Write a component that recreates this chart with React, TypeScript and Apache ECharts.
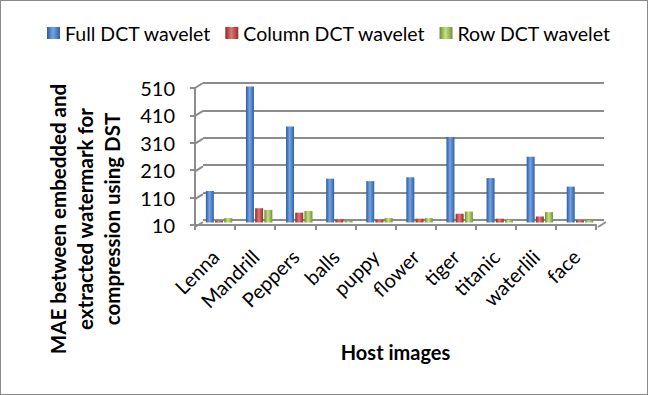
import React, { useEffect, useRef } from "react";
import * as echarts from "echarts";

const categories = ["Lenna", "Mandrill", "Peppers", "balls", "puppy", "flower", "tiger", "titanic", "waterlili", "face"];
const fullDct = [125, 506, 360, 170, 161, 175, 322, 172, 250, 141];
const columnDct = [16, 62, 46, 22, 20, 24, 42, 24, 32, 18];
const rowDct = [26, 56, 52, 16, 26, 26, 50, 20, 48, 18];
const seriesNames = ["Full DCT wavelet", "Column DCT wavelet", "Row DCT wavelet"];
const yTickLabels = ["10", "110", "210", "310", "410", "510"];
const axisBase = 10;
const axisSpan = 500;
const axisStep = 100;

const FONT = "Lato";

const grad = (a: string, b: string, c: string) =>
  new echarts.graphic.LinearGradient(0, 0, 1, 0, [
    { offset: 0, color: a },
    { offset: 0.45, color: b },
    { offset: 1, color: c },
  ]);

export default function App() {
  const ref = useRef<HTMLDivElement>(null);
  useEffect(() => {
    document.body.style.margin = "0";
    if (!ref.current) return;
    const chart = echarts.init(ref.current, null, { renderer: "svg" });

    const W = 648, H = 395;
    const front = { left: 194, top: 87, right: 51, bottom: 169 };
    const dx = 8, dy = -5;
    const mid = { left: front.left + dx / 2, top: front.top + dy / 2, right: front.right - dx / 2, bottom: front.bottom - dy / 2 };
    const back = { left: front.left + dx, top: front.top + dy, right: front.right - dx, bottom: front.bottom - dy };
    const fx0 = front.left, fx1 = W - front.right, fy0 = H - front.bottom, fy1 = front.top;
    const nTicks = axisSpan / axisStep;

    const connectors: any[] = [];
    for (let i = 0; i <= nTicks; i++) {
      const y = fy0 - (i * (fy0 - fy1)) / nTicks;
      connectors.push({
        type: "line",
        shape: { x1: fx0, y1: y, x2: fx0 + dx, y2: y + dy },
        style: { stroke: "#8c8c8c", lineWidth: 2 },
        z: 1,
      });
    }
    connectors.push({
      type: "line",
      shape: { x1: fx1, y1: fy0, x2: fx1 + dx, y2: fy0 + dy },
      style: { stroke: "#8c8c8c", lineWidth: 2 },
      z: 1,
    });

    const gradients = [
      grad("#2c5b97", "#74a4e6", "#30609f"),
      grad("#8c2a27", "#e27572", "#952f2c"),
      grad("#6d8a30", "#c3e381", "#768f3a"),
    ];
    const data = [fullDct, columnDct, rowDct];

    chart.setOption({
      animation: false,
      textStyle: { fontFamily: FONT },
      legend: {
        left: 46,
        top: 22,
        padding: 0,
        itemWidth: 13,
        itemHeight: 12,
        itemGap: 14,
        itemTextGap: 6,
        icon: "rect",
        textStyle: { fontFamily: FONT, fontSize: 19.5, color: "#000" },
        data: seriesNames,
      },
      grid: [
        { ...front, containLabel: false },
        { ...mid, containLabel: false },
        { ...back, containLabel: false },
      ],
      xAxis: [
        {
          gridIndex: 0,
          type: "category",
          data: categories,
          name: "Host images",
          nameLocation: "middle",
          nameGap: 117,
          nameTextStyle: { fontFamily: FONT, fontSize: 20, fontWeight: "bold", color: "#000" },
          axisLine: { lineStyle: { color: "#8c8c8c", width: 2 } },
          axisTick: { show: true, length: 5, lineStyle: { color: "#8c8c8c", width: 2 } },
          axisLabel: { rotate: 45, fontSize: 20, color: "#000", fontFamily: FONT, margin: 28 },
          splitLine: { show: false },
        },
        { gridIndex: 1, type: "category", data: categories, show: false },
        { gridIndex: 2, type: "category", data: categories, show: false },
      ],
      yAxis: [
        {
          gridIndex: 0,
          type: "value",
          min: 0,
          max: axisSpan,
          interval: axisStep,
          axisLine: { show: true, lineStyle: { color: "#8c8c8c", width: 2 } },
          axisTick: { show: true, length: 5, lineStyle: { color: "#8c8c8c", width: 2 } },
          axisLabel: {
            fontSize: 20,
            color: "#000",
            fontFamily: FONT,
            margin: 20,
            formatter: (v: number) => yTickLabels[Math.round(v / axisStep)],
          },
          splitLine: { show: false },
        },
        { gridIndex: 1, type: "value", min: 0, max: axisSpan, interval: axisStep, show: false, splitLine: { show: false } },
        {
          gridIndex: 2,
          type: "value",
          min: 0,
          max: axisSpan,
          interval: axisStep,
          axisLine: { show: false },
          axisTick: { show: false },
          axisLabel: { show: false },
          splitLine: { show: true, lineStyle: { color: "#8c8c8c", width: 2 } },
        },
      ],
      series: seriesNames.map((name, i) => ({
        name,
        type: "bar",
        xAxisIndex: 1,
        yAxisIndex: 1,
        barWidth: 8,
        barGap: "15%",
        data: data[i].map((v) => v - axisBase),
        itemStyle: { color: gradients[i] },
        z: 3,
      })),
      color: ["#4f81bd", "#c0504d", "#9bbb59"],
      graphic: [
        ...connectors,
        {
          type: "text",
          x: 84,
          y: 218,
          rotation: Math.PI / 2,
          style: {
            text: "MAE between embedded and\nextracted watermark for\ncompression using DST",
            fontFamily: FONT,
            fontSize: 20.5,
            fontWeight: "bold",
            fill: "#000",
            align: "center",
            verticalAlign: "middle",
            lineHeight: 27,
          },
        },
      ],
    });
    return () => chart.dispose();
  }, []);
  return (
    <div
      ref={ref}
      style={{ width: 648, height: 395, boxSizing: "border-box", border: "1px solid #8a8a8a", background: "#fff" }}
    />
  );
}
